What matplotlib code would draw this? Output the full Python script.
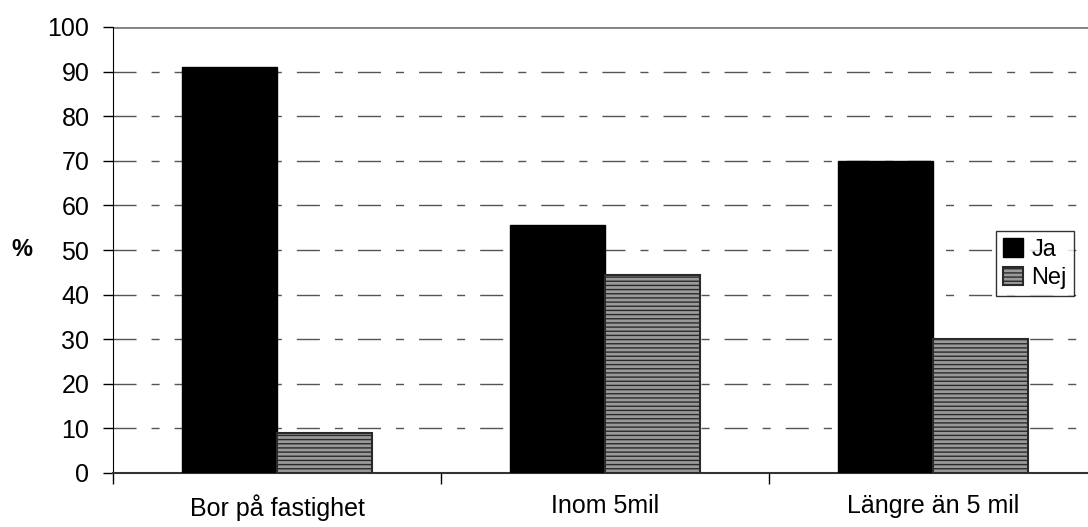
import numpy as np
import matplotlib.pyplot as plt

plt.rcParams['font.family'] = ['Liberation Sans', 'DejaVu Sans']
plt.rcParams['hatch.linewidth'] = 1.0

categories = ["Bor på fastighet", "Inom 5mil", "Längre än 5 mil"]
ja = [91, 55.6, 70]
nej = [9, 44.4, 30]
yticks = list(range(0, 101, 10))

fig = plt.figure(figsize=(10.88, 5.27), dpi=100)
ax = fig.add_axes([113 / 1088, (527 - 473) / 527, 984 / 1088, 446 / 527])

x = np.arange(len(categories))
w = 0.29
ax.bar(x - w / 2, ja, w, color="black", edgecolor="black", linewidth=1, label="Ja", zorder=3)
ax.bar(x + w / 2, nej, w, color="#9a9a9a", edgecolor="#2a2a2a", hatch="----",
       linewidth=1.5, label="Nej", zorder=3)

ax.set_xlim(-0.5, 2.5)
ax.set_ylim(0, 100)
ax.set_yticks(yticks)
ax.set_yticklabels([str(t) for t in yticks], fontsize=18)
ax.set_xticks([-0.5, 0.5, 1.5])
ax.set_xticklabels([])
ax.set_xticks(x, minor=True)
ax.set_xticklabels(categories, minor=True, fontsize=18)
ax.tick_params(axis="x", which="minor", length=0, pad=15)
ax.tick_params(axis="x", which="major", length=8, width=1, color="black")
ax.tick_params(axis="y", length=7, width=1, color="black", pad=10)

lw = 1.0
for t in yticks[1:-1]:
    ax.axhline(t, color="#555555", linewidth=lw,
               linestyle=(0, (16.6 / lw, 10.8 / lw, 5.8 / lw, 10.8 / lw)), zorder=1)
ax.axhline(100, color="#808080", linewidth=2, zorder=1)

for s in ["top", "right"]:
    ax.spines[s].set_visible(False)
ax.spines["left"].set_color("black")
ax.spines["bottom"].set_color("#333333")
ax.spines["bottom"].set_linewidth(1.5)

fig.text(22 / 1088, 1 - 250 / 527, "%", fontsize=17, fontweight="bold", ha="center", va="center")

leg = ax.legend(loc="upper left", bbox_to_anchor=(996 / 1088, 1 - 231 / 527), bbox_transform=fig.transFigure,
                borderaxespad=0, fontsize=17, frameon=True, fancybox=False, edgecolor="black",
                borderpad=0.3, handlelength=0.85, handleheight=0.85, handletextpad=0.35,
                labelspacing=0.25)
leg.get_frame().set_linewidth(1)

fig.savefig("out.png", dpi=100)
